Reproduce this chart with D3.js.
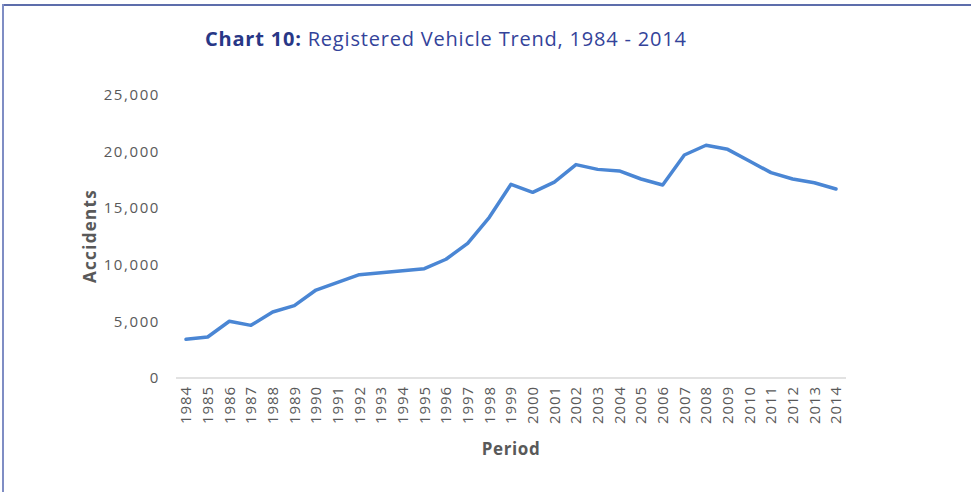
<!DOCTYPE html>
<html>
<head>
<meta charset="utf-8">
<script src="https://cdn.jsdelivr.net/npm/d3@7"></script>
<style>
  body { margin: 0; background: #fff; }
  svg { display: block; }
</style>
</head>
<body>
<script>
var w = 971;
var h = 492;

var years = [1984, 1985, 1986, 1987, 1988, 1989, 1990, 1991, 1992, 1993,
             1994, 1995, 1996, 1997, 1998, 1999, 2000, 2001, 2002, 2003,
             2004, 2005, 2006, 2007, 2008, 2009, 2010, 2011, 2012, 2013, 2014];
var vehicles = [3420, 3620, 5010, 4650, 5830, 6390, 7770, 8450, 9130, 9300,
                9480, 9660, 10490, 11900, 14200, 17110, 16400, 17310, 18850, 18430,
                18290, 17580, 17050, 19700, 20560, 20200, 19170, 18140, 17580, 17250, 16700];
var yTicks = [0, 5000, 10000, 15000, 20000, 25000];

var fontFam = "'Century Gothic', 'Open Sans', sans-serif";

var svg = d3.select("body")
            .append("svg")
              .attr("width", w)
              .attr("height", h);

// frame (top + left edge only)
svg.append("rect")
   .attr("x", 2).attr("y", 4).attr("width", w).attr("height", 2)
   .attr("fill", "#5d6dab");
svg.append("rect")
   .attr("x", 2).attr("y", 4).attr("width", 2).attr("height", h)
   .attr("fill", "#7f8dc4");

var x = d3.scalePoint()
          .domain(years)
          .range([186, 836]);

var y = d3.scaleLinear()
          .domain([0, 25000])
          .range([378, 95]);

// title
var title = svg.append("text")
               .attr("x", 205)
               .attr("y", 46)
               .attr("font-family", fontFam)
               .attr("font-size", "20px")
               .attr("letter-spacing", "0.8px")
               .attr("fill", "#33439a");
title.append("tspan").attr("font-weight", "bold").attr("fill", "#283786").text("Chart 10:");
title.append("tspan").text(" Registered Vehicle Trend, 1984 - 2014");

// y axis labels
svg.selectAll(".ylab")
   .data(yTicks)
   .enter()
   .append("text")
     .attr("class", "ylab")
     .attr("x", 160)
     .attr("y", function(d) { return y(d); })
     .attr("dy", "0.35em")
     .attr("text-anchor", "end")
     .attr("font-family", fontFam)
     .attr("font-size", "15px")
     .attr("letter-spacing", "1.6px")
     .attr("fill", "#595959")
     .text(function(d) { return d3.format(",")(d); });

// x axis line
svg.append("line")
   .attr("x1", 176).attr("x2", 846)
   .attr("y1", y(0)).attr("y2", y(0))
   .attr("stroke", "#d9d9d9")
   .attr("stroke-width", 1.5);

// x labels, rotated
svg.selectAll(".xlab")
   .data(years)
   .enter()
   .append("text")
     .attr("class", "xlab")
     .attr("transform", function(d) { return "translate(" + x(d) + ",386) rotate(-90)"; })
     .attr("dy", "0.35em")
     .attr("text-anchor", "end")
     .attr("font-family", fontFam)
     .attr("font-size", "15px")
     .attr("letter-spacing", "0.9px")
     .attr("fill", "#595959")
     .text(function(d) { return d; });

// axis titles
svg.append("text")
   .attr("transform", "translate(96,236) rotate(-90)")
   .attr("text-anchor", "middle")
   .attr("font-family", fontFam)
   .attr("font-size", "17px")
   .attr("font-weight", "bold")
   .attr("letter-spacing", "1.3px")
   .attr("fill", "#595959")
   .text("Accidents");

svg.append("text")
   .attr("x", 511)
   .attr("y", 455)
   .attr("text-anchor", "middle")
   .attr("font-family", fontFam)
   .attr("font-size", "17px")
   .attr("font-weight", "bold")
   .attr("letter-spacing", "0.6px")
   .attr("fill", "#595959")
   .text("Period");

// the line
var line = d3.line()
             .x(function(d, i) { return x(years[i]); })
             .y(function(d) { return y(d); });

svg.append("path")
   .datum(vehicles)
   .attr("d", line)
   .attr("fill", "none")
   .attr("stroke", "#4a86d4")
   .attr("stroke-width", 3.5)
   .attr("stroke-linejoin", "round")
   .attr("stroke-linecap", "round");
</script>
</body>
</html>
